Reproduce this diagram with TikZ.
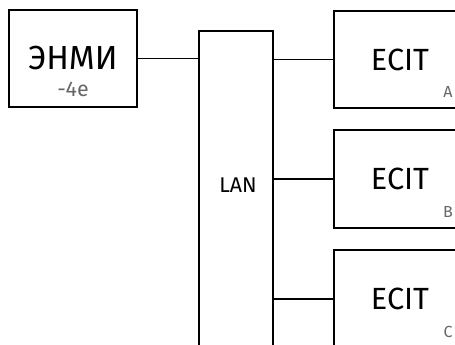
\documentclass[tikz,border=0pt]{standalone}
\usepackage{fontspec}
\setmainfont{Fira Sans}
\begin{document}
\begin{tikzpicture}[x=0.75pt,y=-0.75pt,
  thickbox/.style={draw=black,line width=1.6pt,rectangle,inner sep=0pt},
  thinbox/.style={draw=black,line width=1.1pt,rectangle,inner sep=0pt},
  wire/.style={draw=black,line width=1.1pt},
  sub/.style={text=black!60,inner sep=0pt}]
\useasboundingbox (0,0) rectangle (455,345);
\node[thickbox,minimum width=96pt,minimum height=72.75pt,font=\fontsize{25}{29}\selectfont] (enmi) at (73,58.5) {ЭНМИ};
\node[sub,font=\fontsize{16}{18}\selectfont] (enmisub) at (73,89) {-4e};
\node[thinbox,minimum width=55.5pt,minimum height=277.5pt] (lan) at (236,216) {};
\node[inner sep=0pt,font=\fontsize{16}{18}\selectfont] (lanlabel) at (238,185) {LAN};
\node[thickbox,minimum width=99pt,minimum height=72.75pt,font=\fontsize{23}{27}\selectfont] (a) at (400,59.5) {ECIT};
\node[thickbox,minimum width=99pt,minimum height=73.5pt,font=\fontsize{23}{27}\selectfont] (b) at (400,179) {ECIT};
\node[thickbox,minimum width=99pt,minimum height=73.5pt,font=\fontsize{23}{27}\selectfont] (c) at (400,299) {ECIT};
\node[sub,font=\fontsize{12}{14}\selectfont] (la) at (448,92) {A};
\node[sub,font=\fontsize{12}{14}\selectfont] (lb) at (448,212) {B};
\node[sub,font=\fontsize{12}{14}\selectfont] (lc) at (448,332) {C};
\draw[wire] (enmi.east) -- (enmi.east -| lan.west);
\draw[wire] (a.west) -- (a.west -| lan.east);
\draw[wire] (b.west) -- (b.west -| lan.east);
\draw[wire] (c.west) -- (c.west -| lan.east);
\end{tikzpicture}
\end{document}
